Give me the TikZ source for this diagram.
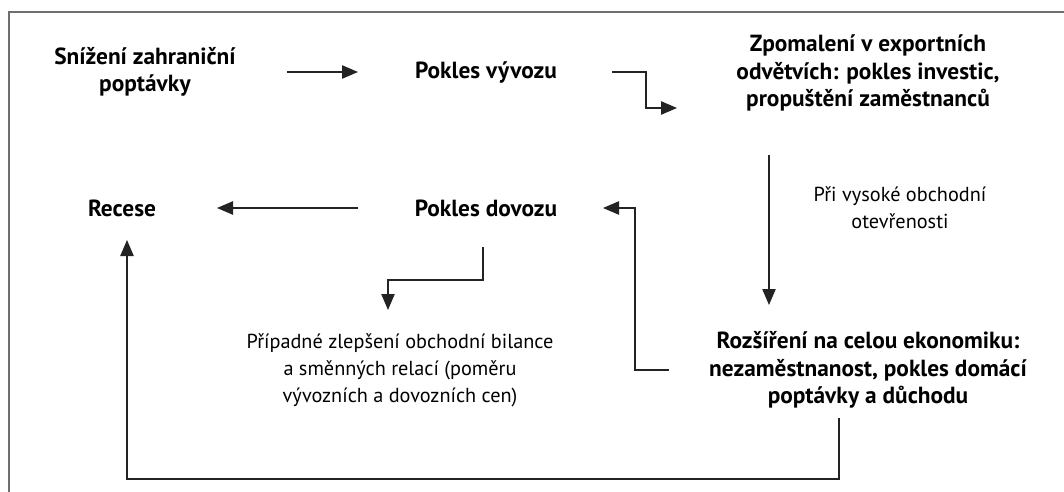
\documentclass[tikz,border=0pt]{standalone}
\usepackage{fontspec}
\setmainfont{PT Sans}
\usetikzlibrary{calc, arrows.meta}
\definecolor{ramec}{RGB}{110,110,110}
\definecolor{cara}{RGB}{35,35,35}

\begin{document}
\begin{tikzpicture}[x=0.75pt, y=-0.75pt,
  tucne/.style={font=\fontsize{17.5}{20.6}\selectfont\bfseries, align=center, inner sep=0pt},
  normal/.style={font=\fontsize{15.2}{20.3}\selectfont, align=center, inner sep=0pt},
  sipka/.style={draw=cara, line width=0.9pt, -{Triangle[length=12pt, width=10pt]}}]

  \useasboundingbox (0,0) rectangle (1064,492);

  %% Frame
  \draw[ramec, line width=1.5pt] (9,492) -- (9,12) -- (1064,12);

  %% Top row
  \node[tucne] (snizeni) at (145,72) {Snížení zahraniční\\poptávky};
  \node[tucne] (vyvoz) at (486,72) {Pokles vývozu};
  \node[tucne] (zpomaleni) at (868,73) {Zpomalení v exportních\\odvětvích: pokles investic,\\propuštění zaměstnanců};

  %% Middle row
  \node[tucne] (recese) at (122,208) {Recese};
  \node[tucne] (dovoz) at (486,208) {Pokles dovozu};
  \node[normal] (otevrenost) at (900,208) {Při vysoké obchodní\\otevřenosti};

  %% Bottom row
  \node[normal] (pripadne) at (400,370) {Případné zlepšení obchodní bilance\\a směnných relací (poměru\\vývozních a dovozních cen)};
  \node[tucne] (rozsireni) at (868,370) {Rozšíření na celou ekonomiku:\\nezaměstnanost, pokles domácí\\poptávky a důchodu};

  %% Arrows
  \draw[sipka] ($(snizeni)+(142,0)$) -- ($(vyvoz)+(-128,0)$);
  \draw[sipka] ($(vyvoz)+(126,0)$) -| ($(zpomaleni)+(-222,35)$) -- ($(zpomaleni)+(-191,35)$);
  \draw[sipka] ($(zpomaleni)+(-99,82)$) -- ($(rozsireni)+(-99,-65)$);
  \draw[sipka] ($(rozsireni)+(-199,0)$) -| ($(dovoz)+(149,0)$) -- ($(dovoz)+(117,0)$);
  \draw[sipka] ($(dovoz)+(-128,0)$) -- ($(recese)+(95,0)$);
  \draw[sipka] ($(dovoz)+(-3,39)$) |- ($(pripadne)+(-12,-90)$) -- ($(pripadne)+(-12,-60)$);
  \draw[sipka] ($(rozsireni)+(-29,48)$) -- ($(rozsireni)+(-29,109)$) -| ($(recese)+(5,32)$);

\end{tikzpicture}
\end{document}
